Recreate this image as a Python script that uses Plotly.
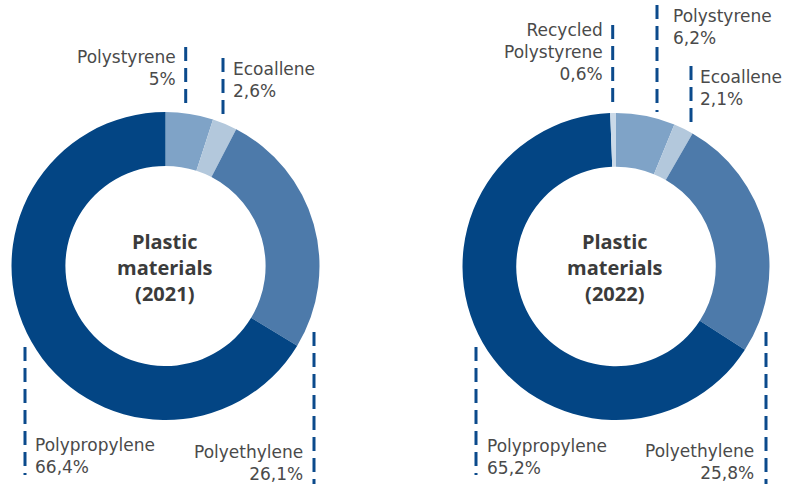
import plotly.graph_objects as go

W, H = 785, 484

# Share of plastic materials, clockwise from 12 o'clock
labels_2021 = ["Polystyrene", "Ecoallene", "Polyethylene", "Polypropylene"]
values_2021 = [5.0, 2.6, 26.1, 66.4]
text_2021 = ["5%", "2,6%", "26,1%", "66,4%"]

labels_2022 = ["Polystyrene", "Ecoallene", "Polyethylene", "Polypropylene", "Recycled Polystyrene"]
values_2022 = [6.2, 2.1, 25.8, 65.2, 0.6]
text_2022 = ["6,2%", "2,1%", "25,8%", "65,2%", "0,6%"]

colors = {
    "Polystyrene": "#7fa3c7",
    "Ecoallene": "#b3c8dc",
    "Polyethylene": "#4d7aaa",
    "Polypropylene": "#034584",
    "Recycled Polystyrene": "#cad9e8",
}

LABEL_FONT = dict(family="'DejaVu Sans', sans-serif", size=17, color="#4a4a4a")
TITLE_FONT = dict(family="'Open Sans', sans-serif", size=20, color="#3b3b3b")
DASH_COLOR = "#0b4a8c"


def px(x):
    return x / W


def py(y):
    return 1 - y / H


def donut(labels, values, cx, cy, r):
    return go.Pie(
        labels=labels,
        values=values,
        hole=0.65,
        sort=False,
        direction="clockwise",
        rotation=0,
        textinfo="none",
        hoverinfo="label+percent",
        marker=dict(colors=[colors[l] for l in labels], line=dict(width=0)),
        domain=dict(x=[px(cx - r), px(cx + r)], y=[py(cy + r), py(cy - r)]),
        showlegend=False,
    )


fig = go.Figure()
fig.add_trace(donut(labels_2021, values_2021, 165.5, 266, 154))
fig.add_trace(donut(labels_2022, values_2022, 616, 266.5, 153.5))

annotations = []
shapes = []


def label(name, pct, x, y, anchor):
    text = name.replace(" ", "<br>") if name == "Recycled Polystyrene" else name
    annotations.append(dict(
        text=f"{text}<br>{pct}", x=px(x), y=py(y), xref="paper", yref="paper",
        xanchor=anchor, yanchor="middle", align=anchor, showarrow=False,
        font=LABEL_FONT,
    ))


def leader(x, y0, y1):
    shapes.append(dict(
        type="line", xref="paper", yref="paper",
        x0=px(x), x1=px(x), y0=py(y0), y1=py(y1),
        line=dict(color=DASH_COLOR, width=3, dash="14px,7px"),
    ))


# 2021 labels and leaders
lab21 = dict(zip(labels_2021, text_2021))
label("Polystyrene", lab21["Polystyrene"], 178, 68, "right")
leader(185.7, 47, 107)
label("Ecoallene", lab21["Ecoallene"], 231, 80, "left")
leader(223, 58, 117)
label("Polypropylene", lab21["Polypropylene"], 33, 456, "left")
leader(25, 347, 475)
label("Polyethylene", lab21["Polyethylene"], 305, 463, "right")
leader(314, 332, 486)

# 2022 labels and leaders
lab22 = dict(zip(labels_2022, text_2022))
label("Recycled Polystyrene", lab22["Recycled Polystyrene"], 605, 52, "right")
leader(612.7, 25, 107)
label("Polystyrene", lab22["Polystyrene"], 671, 27, "left")
leader(657, 5, 112)
label("Ecoallene", lab22["Ecoallene"], 698, 88, "left")
leader(691, 66, 125)
label("Polypropylene", lab22["Polypropylene"], 485, 457, "left")
leader(476, 347, 475)
label("Polyethylene", lab22["Polyethylene"], 756, 462, "right")
leader(766, 332, 486)

# Centre titles
for cx, year in [(165, "2021"), (615, "2022")]:
    annotations.append(dict(
        text=f"<b>Plastic<br>materials<br>({year})</b>", x=px(cx), y=py(267),
        xref="paper", yref="paper", xanchor="center", yanchor="middle",
        align="center", showarrow=False, font=TITLE_FONT,
    ))

fig.update_layout(
    width=W, height=H,
    margin=dict(l=0, r=0, t=0, b=0),
    paper_bgcolor="white", plot_bgcolor="white",
    annotations=annotations, shapes=shapes,
)

fig.write_html("out.html")
